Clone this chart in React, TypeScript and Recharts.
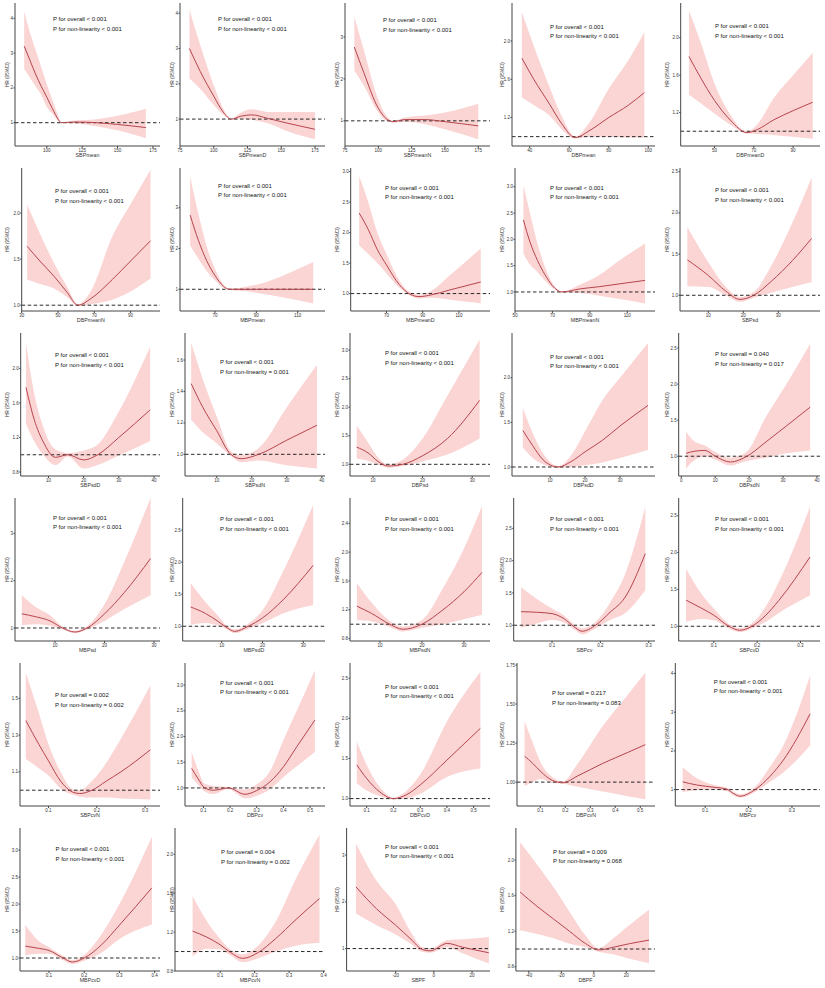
import React from "react";
import { ComposedChart, Area, Line, XAxis, YAxis, ReferenceLine } from "recharts";

const names = [
  "SBPmean", "SBPmeanD", "SBPmeanN", "DBPmean", "DBPmeanD",
  "DBPmeanN", "MBPmean", "MBPmeanD", "MBPmeanN", "SBPsd",
  "SBPsdD", "SBPsdN", "DBPsd", "DBPsdD", "DBPsdN",
  "MBPsd", "MBPsdD", "MBPsdN", "SBPcv", "SBPcvD",
  "SBPcvN", "DBPcv", "DBPcvD", "DBPcvN", "MBPcv",
  "MBPcvD", "MBPcvN", "SBPF", "DBPF",
];

const pOverall = [
  "< 0.001", "< 0.001", "< 0.001", "< 0.001", "< 0.001",
  "< 0.001", "< 0.001", "< 0.001", "< 0.001", "< 0.001",
  "< 0.001", "< 0.001", "< 0.001", "< 0.001", "= 0.040",
  "< 0.001", "< 0.001", "< 0.001", "< 0.001", "< 0.001",
  "= 0.002", "< 0.001", "< 0.001", "= 0.217", "< 0.001",
  "< 0.001", "= 0.004", "< 0.001", "= 0.009",
];
const pNonlinear = [
  "< 0.001", "< 0.001", "< 0.001", "< 0.001", "< 0.001",
  "< 0.001", "< 0.001", "< 0.001", "< 0.001", "< 0.001",
  "< 0.001", "= 0.001", "< 0.001", "< 0.001", "= 0.017",
  "< 0.001", "< 0.001", "< 0.001", "< 0.001", "< 0.001",
  "= 0.002", "< 0.001", "< 0.001", "= 0.083", "< 0.001",
  "< 0.001", "= 0.002", "< 0.001", "= 0.068",
];

// exposure value, HR, lower and upper 95% CI for each panel
const sbpMeanX = [84, 88, 92, 96, 100, 104, 108, 110, 120, 135, 150, 170];
const sbpMeanHr = [3.2, 2.8, 2.4, 2.05, 1.73, 1.4, 1.1, 1.0, 1.02, 1.0, 0.95, 0.86];
const sbpMeanLo = [2.55, 2.3, 2.05, 1.8, 1.45, 1.25, 1.05, 0.99, 0.98, 0.9, 0.78, 0.55];
const sbpMeanHi = [4.2, 3.6, 3.1, 2.6, 2.1, 1.65, 1.2, 1.01, 1.06, 1.1, 1.2, 1.4];

const sbpMeanDX = [82, 90, 100, 107, 113, 120, 128, 140, 155, 175];
const sbpMeanDHr = [3.0, 2.35, 1.65, 1.2, 1.0, 1.08, 1.12, 1.02, 0.88, 0.71];
const sbpMeanDLo = [2.15, 1.85, 1.4, 1.12, 0.99, 1.0, 0.98, 0.88, 0.65, 0.43];
const sbpMeanDHi = [4.1, 3.1, 1.95, 1.3, 1.01, 1.18, 1.28, 1.2, 1.2, 1.2];

const sbpMeanNX = [82, 89, 100, 106, 111, 120, 135, 150, 175];
const sbpMeanNHr = [2.76, 2.16, 1.3, 1.05, 0.98, 1.03, 1.03, 0.98, 0.88];
const sbpMeanNLo = [2.2, 1.85, 1.2, 1.0, 0.96, 0.98, 0.92, 0.8, 0.56];
const sbpMeanNHi = [3.48, 2.7, 1.5, 1.12, 1.0, 1.08, 1.13, 1.2, 1.41];

const dbpMeanX = [36, 42, 50, 56, 63, 70, 80, 90, 98];
const dbpMeanHr = [1.82, 1.6, 1.34, 1.14, 0.99, 1.06, 1.2, 1.33, 1.46];
const dbpMeanLo = [1.41, 1.33, 1.22, 1.08, 0.98, 1.0, 1.0, 0.99, 0.99];
const dbpMeanHi = [2.3, 1.95, 1.52, 1.22, 1.0, 1.14, 1.5, 1.8, 2.09];

const dbpMeanDX = [37, 43, 50, 58, 66.5, 72, 80, 90, 100];
const dbpMeanDHr = [1.8, 1.57, 1.33, 1.12, 0.985, 1.02, 1.12, 1.22, 1.31];
const dbpMeanDLo = [1.39, 1.3, 1.19, 1.07, 0.975, 0.97, 0.96, 0.94, 0.92];
const dbpMeanDHi = [2.29, 1.95, 1.51, 1.18, 0.995, 1.08, 1.35, 1.6, 1.84];

const dbpMeanNX = [33, 40, 48, 55, 61, 68, 80, 90, 101];
const dbpMeanNHr = [1.64, 1.48, 1.31, 1.14, 1.0, 1.07, 1.28, 1.48, 1.7];
const dbpMeanNLo = [1.28, 1.23, 1.18, 1.09, 0.99, 1.01, 1.06, 1.15, 1.29];
const dbpMeanNHi = [2.09, 1.78, 1.45, 1.2, 1.01, 1.15, 1.75, 2.1, 2.47];

const mbpMeanX = [58, 62, 66, 70, 74, 77, 85, 95, 105, 117.5];
const mbpMeanHr = [2.82, 2.2, 1.7, 1.34, 1.08, 1.0, 1.0, 1.0, 1.0, 1.0];
const mbpMeanLo = [2.08, 1.75, 1.45, 1.22, 1.04, 0.99, 0.95, 0.87, 0.78, 0.65];
const mbpMeanHi = [3.76, 2.85, 2.05, 1.5, 1.12, 1.01, 1.06, 1.18, 1.38, 1.67];

const mbpMeanDX = [55, 60, 65, 70, 77, 83, 88, 95, 105, 122];
const mbpMeanDHr = [2.32, 2.05, 1.72, 1.47, 1.15, 0.99, 0.95, 0.98, 1.06, 1.19];
const mbpMeanDLo = [1.79, 1.65, 1.5, 1.33, 1.1, 0.97, 0.92, 0.93, 0.9, 0.84];
const mbpMeanDHi = [2.92, 2.5, 2.0, 1.65, 1.22, 1.02, 0.98, 1.05, 1.3, 1.74];

const mbpMeanNX = [54.5, 58, 62, 66, 70, 75, 85, 95, 105, 119.5];
const mbpMeanNHr = [2.37, 1.95, 1.6, 1.33, 1.12, 1.0, 1.06, 1.1, 1.15, 1.22];
const mbpMeanNLo = [1.73, 1.52, 1.38, 1.22, 1.08, 0.99, 0.98, 0.93, 0.87, 0.78];
const mbpMeanNHi = [3.03, 2.5, 1.92, 1.48, 1.17, 1.01, 1.14, 1.32, 1.58, 1.92];

const sbpSdX = [4, 10, 15, 19, 23, 28, 34, 39.5];
const sbpSdHr = [1.43, 1.24, 1.05, 0.95, 1.0, 1.17, 1.42, 1.69];
const sbpSdLo = [1.11, 1.1, 1.0, 0.92, 0.97, 1.03, 1.1, 1.16];
const sbpSdHi = [1.83, 1.4, 1.1, 0.98, 1.04, 1.36, 1.88, 2.43];

const sbpSdDX = [3.6, 6, 8.5, 12, 15.5, 20, 24, 30, 38.9];
const sbpSdDHr = [1.78, 1.4, 1.15, 0.97, 1.0, 0.94, 1.0, 1.2, 1.52];
const sbpSdDLo = [1.36, 1.15, 1.0, 0.88, 0.98, 0.84, 0.88, 0.99, 1.16];
const sbpSdDHi = [2.29, 1.7, 1.32, 1.06, 1.02, 1.05, 1.12, 1.5, 2.25];

const sbpSdNX = [2.7, 6, 10, 14, 17, 22, 30, 38.6];
const sbpSdNHr = [1.45, 1.3, 1.15, 1.0, 0.972, 1.0, 1.09, 1.185];
const sbpSdNLo = [1.22, 1.14, 1.07, 0.99, 0.95, 0.96, 0.93, 0.91];
const sbpSdNHi = [1.71, 1.48, 1.24, 1.02, 0.995, 1.04, 1.3, 1.57];

const dbpSdX = [6.7, 9, 11, 13, 16, 20, 25, 31.5];
const dbpSdHr = [1.3, 1.2, 1.05, 0.97, 1.0, 1.15, 1.45, 2.12];
const dbpSdLo = [1.1, 1.06, 0.99, 0.94, 0.97, 1.05, 1.17, 1.45];
const dbpSdHi = [1.68, 1.38, 1.12, 1.0, 1.08, 1.45, 2.2, 3.18];

const dbpSdDX = [2.2, 5, 8, 12.3, 16, 20, 25, 30, 38];
const dbpSdDHr = [1.41, 1.24, 1.08, 1.0, 1.06, 1.17, 1.3, 1.46, 1.69];
const dbpSdDLo = [1.22, 1.1, 1.03, 0.99, 1.0, 1.02, 1.05, 1.1, 1.19];
const dbpSdDHi = [1.66, 1.38, 1.15, 1.01, 1.13, 1.4, 1.75, 2.0, 2.39];

const dbpSdNX = [1.4, 4, 7, 10, 14.5, 19, 25, 31, 38];
const dbpSdNHr = [1.04, 1.07, 1.08, 1.0, 0.92, 0.99, 1.2, 1.42, 1.68];
const dbpSdNLo = [0.83, 0.95, 1.0, 0.95, 0.87, 0.93, 0.98, 1.04, 1.08];
const dbpSdNHi = [1.34, 1.2, 1.15, 1.06, 0.98, 1.05, 1.55, 2.0, 2.56];

const mbpSdX = [3.3, 6, 9, 11.5, 14, 16.5, 20, 24, 29.3];
const mbpSdHr = [1.3, 1.24, 1.15, 1.0, 0.915, 1.0, 1.3, 1.75, 2.47];
const mbpSdLo = [1.06, 1.08, 1.05, 0.97, 0.89, 0.97, 1.15, 1.4, 1.69];
const mbpSdHi = [1.69, 1.45, 1.27, 1.03, 0.94, 1.04, 1.5, 2.4, 3.75];

const mbpSdDX = [2.4, 6, 9, 11, 13.2, 16.5, 20, 25, 32.4];
const mbpSdDHr = [1.3, 1.2, 1.08, 0.99, 0.92, 1.0, 1.13, 1.41, 1.95];
const mbpSdDLo = [1.02, 1.05, 1.01, 0.96, 0.89, 0.96, 1.05, 1.2, 1.33];
const mbpSdDHi = [1.67, 1.38, 1.17, 1.02, 0.95, 1.04, 1.25, 1.85, 2.89];

const mbpSdNX = [4.5, 8, 12, 15.5, 20, 25, 30, 34.3];
const mbpSdNHr = [1.25, 1.15, 1.01, 0.93, 1.0, 1.2, 1.45, 1.72];
const mbpSdNLo = [1.06, 1.04, 0.97, 0.9, 0.95, 1.0, 1.07, 1.13];
const mbpSdNHi = [1.57, 1.3, 1.06, 0.97, 1.06, 1.5, 2.05, 2.64];

const sbpCvX = [0.036, 0.07, 0.1, 0.125, 0.145, 0.162, 0.19, 0.22, 0.25, 0.293];
const sbpCvHr = [1.21, 1.2, 1.18, 1.1, 0.98, 0.907, 1.0, 1.2, 1.42, 2.11];
const sbpCvLo = [0.96, 1.03, 1.08, 1.04, 0.94, 0.86, 0.95, 1.08, 1.18, 1.54];
const sbpCvHi = [1.59, 1.4, 1.26, 1.15, 1.02, 0.95, 1.05, 1.35, 1.77, 2.83];

const sbpCvDX = [0.036, 0.07, 0.1, 0.135, 0.16, 0.188, 0.22, 0.25, 0.322];
const sbpCvDHr = [1.354, 1.25, 1.15, 1.0, 0.946, 1.0, 1.15, 1.35, 1.94];
const sbpCvDLo = [1.06, 1.1, 1.08, 0.97, 0.92, 0.97, 1.06, 1.18, 1.42];
const sbpCvDHi = [1.78, 1.45, 1.24, 1.03, 0.975, 1.04, 1.27, 1.6, 2.62];

const sbpCvNX = [0.053, 0.08, 0.1, 0.125, 0.15, 0.165, 0.19, 0.22, 0.25, 0.311];
const sbpCvNHr = [1.38, 1.25, 1.16, 1.05, 0.99, 0.982, 1.0, 1.05, 1.1, 1.22];
const sbpCvNLo = [1.17, 1.12, 1.08, 1.01, 0.975, 0.965, 0.96, 0.96, 0.955, 0.95];
const sbpCvNHi = [1.64, 1.42, 1.25, 1.1, 1.005, 1.0, 1.05, 1.15, 1.28, 1.57];

const dbpCvX = [0.056, 0.08, 0.105, 0.137, 0.194, 0.256, 0.3, 0.35, 0.4, 0.45, 0.518];
const dbpCvHr = [1.38, 1.18, 1.0, 0.955, 1.0, 0.877, 0.95, 1.12, 1.41, 1.8, 2.32];
const dbpCvLo = [1.21, 1.06, 0.93, 0.88, 0.98, 0.8, 0.85, 0.98, 1.21, 1.42, 1.7];
const dbpCvHi = [1.7, 1.35, 1.08, 1.04, 1.02, 0.97, 1.07, 1.33, 1.93, 2.5, 3.29];

const dbpCvDX = [0.063, 0.1, 0.15, 0.2, 0.25, 0.3, 0.4, 0.525];
const dbpCvDHr = [1.42, 1.25, 1.08, 1.0, 1.05, 1.17, 1.48, 1.875];
const dbpCvDLo = [1.19, 1.1, 1.03, 0.99, 1.0, 1.06, 1.27, 1.375];
const dbpCvDHi = [1.71, 1.42, 1.14, 1.01, 1.1, 1.3, 1.96, 2.58];

const dbpCvNX = [0.037, 0.07, 0.1, 0.15, 0.19, 0.25, 0.35, 0.45, 0.52];
const dbpCvNHr = [1.166, 1.12, 1.07, 1.01, 0.996, 1.04, 1.12, 1.19, 1.24];
const dbpCvNLo = [0.975, 1.0, 1.02, 0.995, 0.99, 0.97, 0.94, 0.91, 0.89];
const dbpCvNHi = [1.39, 1.25, 1.13, 1.03, 1.005, 1.12, 1.36, 1.56, 1.7];

const mbpCvX = [0.048, 0.08, 0.12, 0.15, 0.165, 0.18, 0.215, 0.25, 0.28, 0.342];
const mbpCvHr = [1.2, 1.12, 1.06, 1.01, 0.9, 0.83, 1.0, 1.35, 1.76, 2.96];
const mbpCvLo = [0.94, 0.98, 1.0, 0.96, 0.85, 0.79, 0.94, 1.2, 1.44, 2.14];
const mbpCvHi = [1.58, 1.3, 1.12, 1.05, 0.95, 0.88, 1.07, 1.6, 2.14, 3.95];

const mbpCvDX = [0.033, 0.07, 0.1, 0.14, 0.166, 0.2, 0.25, 0.3, 0.392];
const mbpCvDHr = [1.22, 1.18, 1.14, 1.0, 0.926, 1.0, 1.25, 1.61, 2.3];
const mbpCvDLo = [1.05, 1.08, 1.08, 0.96, 0.89, 0.95, 1.1, 1.35, 1.62];
const mbpCvDHi = [1.61, 1.32, 1.2, 1.04, 0.96, 1.06, 1.45, 2.0, 3.25];

const mbpCvNX = [0.02, 0.06, 0.1, 0.13, 0.165, 0.21, 0.26, 0.32, 0.388];
const mbpCvNHr = [1.21, 1.15, 1.07, 0.99, 0.93, 0.99, 1.13, 1.33, 1.545];
const mbpCvNLo = [0.95, 1.03, 1.02, 0.96, 0.89, 0.93, 1.0, 1.06, 1.09];
const mbpCvNHi = [1.57, 1.32, 1.13, 1.02, 0.97, 1.06, 1.3, 1.75, 2.2];

const sbpFX = [-40.8, -30, -20, -12, -6, -2, 7, 15, 28.8];
const sbpFHr = [2.32, 1.85, 1.5, 1.2, 0.98, 0.95, 1.11, 1.03, 0.91];
const sbpFLo = [1.75, 1.5, 1.3, 1.1, 0.93, 0.91, 1.03, 0.9, 0.68];
const sbpFHi = [3.25, 2.45, 1.95, 1.35, 1.03, 1.0, 1.18, 1.2, 1.25];

const dbpFX = [-45.4, -35, -25, -15, -5, 3, 12, 22, 34];
const dbpFHr = [1.64, 1.48, 1.34, 1.2, 1.06, 0.99, 1.02, 1.06, 1.1];
const dbpFLo = [1.21, 1.17, 1.12, 1.06, 1.02, 0.97, 0.94, 0.89, 0.84];
const dbpFHi = [2.2, 1.95, 1.7, 1.42, 1.15, 1.01, 1.12, 1.27, 1.44];

const xTicks = [
  [100, 125, 150, 175], [75, 100, 125, 150, 175], [75, 100, 125, 150, 175], [40, 60, 80, 100], [50, 70, 90],
  [30, 50, 70, 90], [70, 90, 110], [70, 90, 110], [50, 70, 90, 110], [10, 20, 30],
  [10, 20, 30, 40], [10, 20, 30, 40], [10, 20, 30], [10, 20, 30], [0, 10, 20, 30, 40],
  [10, 20, 30], [10, 20, 30], [10, 20, 30], [0.1, 0.2, 0.3], [0.1, 0.2, 0.3],
  [0.1, 0.2, 0.3], [0.1, 0.2, 0.3, 0.4, 0.5], [0.1, 0.2, 0.3, 0.4, 0.5], [0.1, 0.2, 0.3, 0.4, 0.5], [0.1, 0.2, 0.3],
  [0.1, 0.2, 0.3, 0.4], [0.1, 0.2, 0.3, 0.4], [-20, 0, 20], [-40, -20, 0, 20],
];
const yTicks = [
  [1, 2, 3, 4], [1, 2, 3, 4], [1, 2, 3], [1.2, 1.6, 2.0], [1.2, 1.6, 2.0],
  [1.0, 1.5, 2.0], [1, 2, 3], [1.0, 1.5, 2.0, 2.5, 3.0], [1.0, 1.5, 2.0, 2.5, 3.0], [1.0, 1.5, 2.0, 2.5],
  [0.8, 1.2, 1.6, 2.0], [1.0, 1.2, 1.4, 1.6], [1.0, 1.5, 2.0, 2.5, 3.0], [1.0, 1.5, 2.0], [1.0, 1.5, 2.0, 2.5],
  [1, 2, 3], [1.0, 1.5, 2.0, 2.5], [0.8, 1.2, 1.6, 2.0, 2.4], [1.0, 1.5, 2.0, 2.5], [1.0, 1.5, 2.0, 2.5],
  [1.1, 1.3, 1.5], [1.0, 1.5, 2.0, 2.5, 3.0], [1.0, 1.5, 2.0, 2.5], [1.0, 1.25, 1.5, 1.75], [1, 2, 3, 4],
  [1.0, 1.5, 2.0, 2.5, 3.0], [0.8, 1.2, 1.6, 2.0], [1, 2, 3], [0.8, 1.2, 1.6, 2.0],
];
const yDecimals = [0, 0, 0, 1, 1, 1, 0, 1, 1, 1, 1, 1, 1, 1, 1, 0, 1, 1, 1, 1, 1, 1, 1, 2, 0, 1, 1, 0, 1];

const series = [
  [sbpMeanX, sbpMeanHr, sbpMeanLo, sbpMeanHi],
  [sbpMeanDX, sbpMeanDHr, sbpMeanDLo, sbpMeanDHi],
  [sbpMeanNX, sbpMeanNHr, sbpMeanNLo, sbpMeanNHi],
  [dbpMeanX, dbpMeanHr, dbpMeanLo, dbpMeanHi],
  [dbpMeanDX, dbpMeanDHr, dbpMeanDLo, dbpMeanDHi],
  [dbpMeanNX, dbpMeanNHr, dbpMeanNLo, dbpMeanNHi],
  [mbpMeanX, mbpMeanHr, mbpMeanLo, mbpMeanHi],
  [mbpMeanDX, mbpMeanDHr, mbpMeanDLo, mbpMeanDHi],
  [mbpMeanNX, mbpMeanNHr, mbpMeanNLo, mbpMeanNHi],
  [sbpSdX, sbpSdHr, sbpSdLo, sbpSdHi],
  [sbpSdDX, sbpSdDHr, sbpSdDLo, sbpSdDHi],
  [sbpSdNX, sbpSdNHr, sbpSdNLo, sbpSdNHi],
  [dbpSdX, dbpSdHr, dbpSdLo, dbpSdHi],
  [dbpSdDX, dbpSdDHr, dbpSdDLo, dbpSdDHi],
  [dbpSdNX, dbpSdNHr, dbpSdNLo, dbpSdNHi],
  [mbpSdX, mbpSdHr, mbpSdLo, mbpSdHi],
  [mbpSdDX, mbpSdDHr, mbpSdDLo, mbpSdDHi],
  [mbpSdNX, mbpSdNHr, mbpSdNLo, mbpSdNHi],
  [sbpCvX, sbpCvHr, sbpCvLo, sbpCvHi],
  [sbpCvDX, sbpCvDHr, sbpCvDLo, sbpCvDHi],
  [sbpCvNX, sbpCvNHr, sbpCvNLo, sbpCvNHi],
  [dbpCvX, dbpCvHr, dbpCvLo, dbpCvHi],
  [dbpCvDX, dbpCvDHr, dbpCvDLo, dbpCvDHi],
  [dbpCvNX, dbpCvNHr, dbpCvNLo, dbpCvNHi],
  [mbpCvX, mbpCvHr, mbpCvLo, mbpCvHi],
  [mbpCvDX, mbpCvDHr, mbpCvDLo, mbpCvDHi],
  [mbpCvNX, mbpCvNHr, mbpCvNLo, mbpCvNHi],
  [sbpFX, sbpFHr, sbpFLo, sbpFHi],
  [dbpFX, dbpFHr, dbpFLo, dbpFHi],
];

// per panel: y-axis width, x domain, y domain, annotation x / y
const layout = [
  [15, 77.5, 180, 0.33, 4.44, 53, 19],
  [15, 75, 182.4, 0.237, 4.29, 53, 19],
  [15, 75, 183.8, 0.4, 3.81, 53, 20],
  [17, 31, 103.4, 0.902, 2.397, 55, 26.5],
  [20.7, 32.8, 103.7, 0.842, 2.372, 55, 26],
  [21.7, 30, 106.2, 0.937, 2.49, 55, 26],
  [15, 53.1, 123.2, 0.467, 3.975, 53, 20.5],
  [20.7, 50.3, 127.1, 0.714, 3.06, 55, 22.5],
  [20, 50, 124.8, 0.638, 3.356, 55, 22.5],
  [20, 1.9, 41.9, 0.809, 2.545, 55, 25],
  [20.7, 2.1, 41.7, 0.754, 2.41, 55, 25],
  [20, 0.94, 40.9, 0.862, 1.772, 55, 32],
  [20, 5.35, 33.6, 0.795, 3.3, 55, 23.3],
  [17, -0.9, 40, 0.899, 2.502, 55, 26.5],
  [18.7, -0.77, 40.9, 0.726, 2.708, 55, 24],
  [15, 1.92, 31.2, 0.725, 3.748, 53, 22.5],
  [17.7, 0.44, 35.3, 0.77, 3.0, 55, 24],
  [20, 2.86, 36.2, 0.767, 2.752, 55, 24],
  [18.7, 0.0207, 0.313, 0.756, 2.97, 55, 24],
  [18.7, 0.019, 0.345, 0.8, 2.74, 55, 24],
  [20, 0.041, 0.331, 0.914, 1.693, 55, 35],
  [20, 0.031, 0.556, 0.649, 3.43, 55, 22.5],
  [20, 0.0376, 0.561, 0.9075, 2.69, 55, 26.5],
  [22, 0.0068, 0.559, 0.847, 1.763, 57, 33],
  [15.3, 0.031, 0.3646, 0.576, 4.27, 53.7, 21.5],
  [20, 0.0178, 0.415, 0.759, 3.41, 55.6, 24],
  [10, -0.031, 0.404, 0.8, 2.27, 56, 27],
  [16.6, -45.7, 29.4, 0.52, 3.58, 55, 21.5],
  [20.9, -48, 37.7, 0.753, 2.36, 58, 26.5],
];

const FONT = '"Liberation Sans", Arial, Helvetica, sans-serif';
const CELL = 165;

function HrPanel({ i }: { i: number }) {
  const [xs, hr, lo, hi] = series[i];
  const [left, x0, x1, y0, y1, tx, ty] = layout[i];
  const rows = xs.map((x, k) => ({ x, hr: hr[k], band: [lo[k], hi[k]] }));
  const xDec = xTicks[i].some((v) => !Number.isInteger(v)) ? 1 : 0;
  const yDec = yDecimals[i];
  return (
    <div
      style={{
        position: "absolute",
        left: (i % 5) * CELL,
        top: Math.floor(i / 5) * CELL,
        width: CELL,
        height: CELL,
      }}
    >
      <ComposedChart
        width={CELL}
        height={CELL}
        data={rows}
        margin={{ top: 3, right: 5, bottom: 0, left: 0 }}
        style={{ fontFamily: FONT }}
      >
        <XAxis
          type="number"
          dataKey="x"
          domain={[x0, x1]}
          ticks={xTicks[i]}
          interval={0}
          allowDataOverflow
          height={19}
          stroke="#444"
          tickSize={2}
          tickMargin={0.5}
          tick={{ fontSize: 4.5, fill: "#333" }}
          tickFormatter={(v: number) => v.toFixed(xDec)}
          label={{ value: names[i], position: "insideBottom", offset: 8, fontSize: 5.3, fill: "#333" }}
        />
        <YAxis
          type="number"
          domain={[y0, y1]}
          ticks={yTicks[i]}
          interval={0}
          allowDataOverflow
          width={left}
          stroke="#444"
          tickSize={1.5}
          tickMargin={0.5}
          tick={{ fontSize: 4.5, fill: "#333" }}
          tickFormatter={(v: number) => v.toFixed(yDec)}
          label={{
            value: "HR (95%CI)",
            angle: -90,
            position: "insideLeft",
            offset: 7.5,
            fontSize: 4.5,
            fill: "#333",
            style: { textAnchor: "middle" },
          }}
        />
        <Area
          type="monotone"
          dataKey="band"
          stroke="none"
          fill="#fbd4d4"
          fillOpacity={1}
          isAnimationActive={false}
        />
        <ReferenceLine y={1} stroke="#111" strokeWidth={0.9} strokeDasharray="3.5 2.5" />
        <Line
          type="monotone"
          dataKey="hr"
          stroke="#b5464e"
          strokeWidth={1}
          dot={false}
          isAnimationActive={false}
        />
      </ComposedChart>
      <svg
        width={CELL}
        height={CELL}
        style={{ position: "absolute", left: 0, top: 0, pointerEvents: "none" }}
      >
        <text x={tx} y={ty} fontSize={6} fill="#111" fontFamily={FONT} dominantBaseline="central">
          {`P for overall ${pOverall[i]}`}
        </text>
        <text x={tx} y={ty + 9.7} fontSize={6} fill="#111" fontFamily={FONT} dominantBaseline="central">
          {`P for non-linearity ${pNonlinear[i]}`}
        </text>
      </svg>
    </div>
  );
}

export default function App() {
  return (
    <div
      style={{
        position: "absolute",
        left: 0,
        top: 0,
        width: 825,
        height: 988,
        background: "#fff",
        overflow: "hidden",
      }}
    >
      {names.map((_, i) => (
        <HrPanel key={names[i]} i={i} />
      ))}
    </div>
  );
}
